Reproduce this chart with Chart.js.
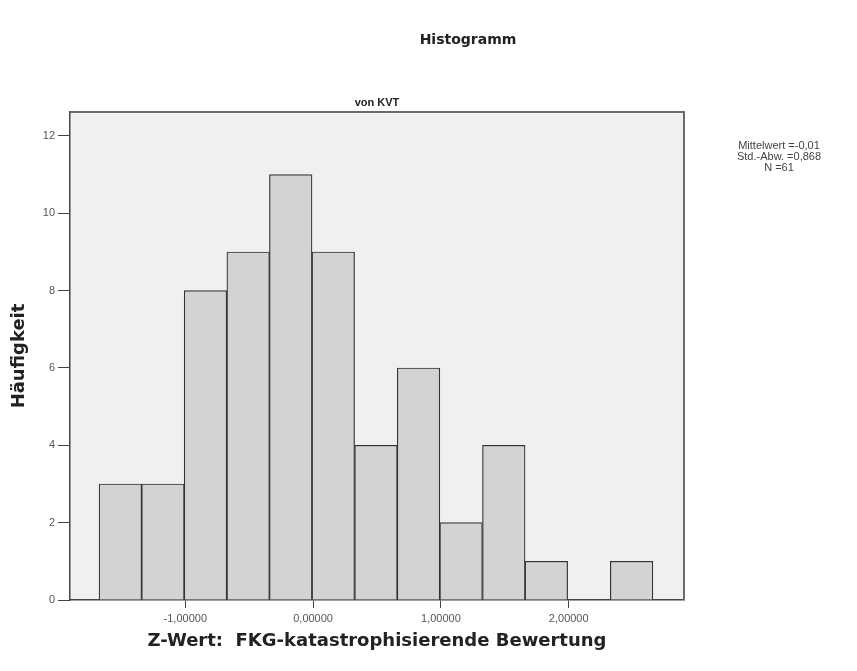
<!DOCTYPE html>
<html>
<head>
<meta charset="utf-8">
<script src="https://cdn.jsdelivr.net/npm/chart.js@4.4.1/dist/chart.umd.min.js"></script>
<style>
  html, body { margin: 0; padding: 0; background: #fff; }
</style>
</head>
<body>
<canvas id="chart" width="857" height="671"></canvas>
<script>
// histogram bins (centres of the 1/3-wide classes) and their counts
const binCenters = [-1.508, -1.175, -0.842, -0.508, -0.175, 0.158, 0.492, 0.825, 1.158, 1.492, 1.825, 2.158, 2.492];
const counts = [3, 3, 8, 9, 11, 9, 4, 6, 2, 4, 1, 0, 1];
const xTicks = [-1, 0, 1, 2];
const yTicks = [0, 2, 4, 6, 8, 10, 12];
const statLines = ['Mittelwert =-0,01', 'Std.-Abw. =0,868', 'N =61'];
const mainTitle = 'Histogramm';
const subTitle = 'von KVT';
const xTitle = 'Z-Wert:  FKG-katastrophisierende Bewertung';
const yTitle = 'Häufigkeit';

const decor = {
  id: 'decor',
  beforeDraw(chart) {
    const { ctx, chartArea: a } = chart;
    ctx.save();
    ctx.fillStyle = '#f0f0f0';
    ctx.fillRect(a.left, a.top, a.right - a.left, a.bottom - a.top);
    ctx.restore();
  },
  afterDraw(chart) {
    const { ctx, chartArea: a } = chart;
    ctx.save();
    // frame on top and right
    ctx.strokeStyle = '#6a6a6a';
    ctx.lineWidth = 2;
    ctx.beginPath();
    ctx.moveTo(a.left, a.top);
    ctx.lineTo(a.right, a.top);
    ctx.lineTo(a.right, a.bottom);
    ctx.stroke();

    ctx.textAlign = 'center';
    ctx.textBaseline = 'middle';
    ctx.fillStyle = '#222';
    ctx.font = 'bold 14px "DejaVu Sans"';
    ctx.fillText(mainTitle, 468, 40);
    ctx.font = 'bold 11px "Liberation Sans"';
    ctx.fillText(subTitle, (a.left + a.right) / 2, 103);

    ctx.fillStyle = '#444';
    ctx.font = '11px "Liberation Sans"';
    statLines.forEach((t, i) => ctx.fillText(t, 779, 146 + i * 11));
    ctx.restore();
  }
};

const ctx = document.getElementById('chart').getContext('2d');
new Chart(ctx, {
  type: 'bar',
  data: {
    datasets: [{
      data: binCenters.map((x, i) => ({ x: x, y: counts[i] })),
      backgroundColor: '#d3d3d3',
      borderColor: '#333',
      borderWidth: 1.2,
      barPercentage: 1,
      categoryPercentage: 1
    }]
  },
  options: {
    responsive: false,
    animation: false,
    layout: { padding: { top: 112, right: 173, left: 0, bottom: 0 } },
    plugins: {
      legend: { display: false },
      tooltip: { enabled: false }
    },
    scales: {
      x: {
        type: 'linear',
        offset: false,
        min: -1.902,
        max: 2.902,
        afterBuildTicks: s => { s.ticks = xTicks.map(v => ({ value: v })); },
        afterFit: s => { s.height = 71; },
        ticks: {
          color: '#555',
          font: { family: 'Liberation Sans', size: 11 },
          padding: 4,
          maxRotation: 0,
          callback: v => (v === 0 ? 0 : v).toFixed(5).replace('.', ',')
        },
        grid: { offset: false, drawOnChartArea: false, drawTicks: true, tickLength: 8, color: '#444' },
        border: { display: true, color: '#444', width: 1.5 },
        title: {
          display: true,
          text: xTitle,
          color: '#222',
          font: { family: 'DejaVu Sans', size: 18, weight: 'bold' },
          padding: { top: 0, bottom: 19 }
        }
      },
      y: {
        min: 0,
        max: 12.62,
        afterBuildTicks: s => { s.ticks = yTicks.map(v => ({ value: v })); },
        afterFit: s => { s.width = 70; },
        ticks: {
          color: '#555',
          font: { family: 'Liberation Sans', size: 11 },
          padding: 3
        },
        grid: { drawOnChartArea: false, drawTicks: true, tickLength: 12, color: '#444' },
        border: { display: true, color: '#444', width: 1.5 },
        title: {
          display: true,
          text: yTitle,
          color: '#222',
          font: { family: 'DejaVu Sans', size: 18, weight: 'bold' },
          padding: { top: 9, bottom: 0 }
        }
      }
    }
  },
  plugins: [decor]
});
</script>
</body>
</html>
